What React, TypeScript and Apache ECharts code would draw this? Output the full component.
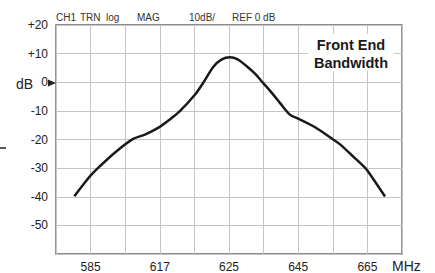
import React, { useEffect, useRef } from "react";
import * as echarts from "echarts";

const xTickLabels = ["", "585", "", "617", "", "625", "", "645", "", "665", ""];
const yMin = -60;
const yMax = 20;
const curveX = [0.53, 0.79, 1.03, 1.27, 1.75, 2.23, 2.57, 3.0, 3.29, 3.58, 4.02, 4.26, 4.55, 4.78, 5.03, 5.25, 5.46, 5.75, 5.99, 6.25, 6.47, 6.76, 7.0, 7.5, 8.01, 8.21, 8.55, 8.93, 9.08, 9.51];
const curveDb = [-39.8, -35.7, -32.2, -29.3, -24.1, -19.8, -18.3, -15.6, -13.0, -10.1, -4.3, -0.1, 5.4, 7.9, 8.7, 8.0, 6.1, 3.0, -0.3, -3.9, -7.2, -11.3, -12.7, -15.8, -20.0, -21.7, -25.5, -29.8, -32.2, -39.9];
const headerTexts = ["CH1", "TRN", "log", "MAG", "10dB/", "REF 0 dB"];
const headerX = [56, 80, 106, 137, 189, 232];
const titleLines = ["Front End", "Bandwidth"];

const FONT = "Liberation Sans, Arial, Helvetica, sans-serif";

export default function App() {
  const ref = useRef<HTMLDivElement>(null);
  useEffect(() => {
    if (!ref.current) return;
    const chart = echarts.init(ref.current, null, { renderer: "svg" });
    const data = curveX.map((x, i) => [x, curveDb[i]]);
    chart.setOption({
      animation: false,
      backgroundColor: "#fff",
      textStyle: { fontFamily: FONT },
      grid: {
        left: 56,
        top: 25,
        right: 33,
        bottom: 18,
        show: true,
        borderColor: "#666",
        borderWidth: 1.4,
        containLabel: false,
      },
      xAxis: {
        type: "value",
        min: 0,
        max: 10,
        interval: 1,
        axisLine: { show: false },
        axisTick: { show: false },
        splitLine: { show: true, lineStyle: { color: "#c4c4c4", width: 1 } },
        axisLabel: {
          margin: 7,
          fontSize: 12,
          color: "#222",
          fontFamily: FONT,
          formatter: (v: number) => xTickLabels[Math.round(v)] ?? "",
        },
      },
      yAxis: {
        type: "value",
        min: yMin,
        max: yMax,
        interval: 10,
        axisLine: { show: false },
        axisTick: { show: false },
        splitLine: { show: true, lineStyle: { color: "#c4c4c4", width: 1 } },
        axisLabel: {
          margin: 8,
          fontSize: 12,
          color: "#222",
          fontFamily: FONT,
          showMinLabel: false,
          formatter: (v: number) => (v > 0 ? "+" + v : v === 0 ? "0" : "-" + Math.abs(v)),
        },
      },
      series: [
        {
          type: "line",
          data,
          smooth: 0.3,
          symbol: "none",
          lineStyle: { color: "#1a1a1a", width: 2.5 },
          z: 5,
        },
      ],
      graphic: [
        ...headerTexts.map((t, i) => ({
          type: "text",
          x: headerX[i],
          y: 17.5,
          style: { text: t, fontSize: 10, fill: "#333", fontFamily: FONT, verticalAlign: "middle", align: "left" },
        })),
        {
          type: "rect",
          shape: { x: 308, y: 34, width: 86, height: 37 },
          style: { fill: "#fff" },
          z: 10,
        },
        ...titleLines.map((t, i) => ({
          type: "text",
          x: 351,
          y: 45 + i * 17.5,
          z: 11,
          style: { text: t, fontSize: 14.5, fontWeight: "bold", fill: "#1a1a1a", fontFamily: FONT, align: "center", verticalAlign: "middle" },
        })),
        {
          type: "text",
          x: 16,
          y: 84,
          style: { text: "dB", fontSize: 14, fill: "#222", fontFamily: FONT, align: "left", verticalAlign: "middle" },
        },
        {
          type: "polygon",
          shape: { points: [[48, 79.5], [56, 83], [48, 86.5]] },
          style: { fill: "#222" },
          z: 12,
        },
        {
          type: "line",
          shape: { x1: 0, y1: 148, x2: 6, y2: 148 },
          style: { stroke: "#222", lineWidth: 1.5 },
        },
        {
          type: "text",
          x: 392,
          y: 266,
          style: { text: "MHz", fontSize: 14, fill: "#222", fontFamily: FONT, align: "left", verticalAlign: "middle" },
        },
      ],
    });
    return () => chart.dispose();
  }, []);
  return (
    <div
      ref={ref}
      style={{ position: "fixed", left: 0, top: 0, width: 435, height: 273, background: "#fff" }}
    />
  );
}
